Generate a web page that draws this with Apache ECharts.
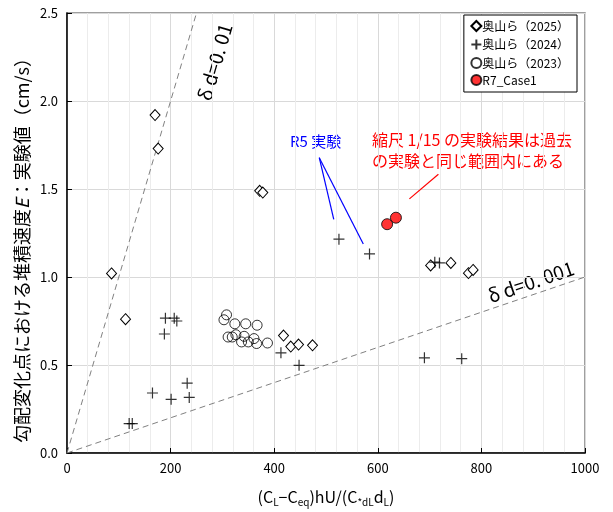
<!DOCTYPE html>
<html><head><meta charset="utf-8">
<script src="https://cdn.jsdelivr.net/npm/echarts@6/dist/echarts.min.js"></script>
<style>html,body{margin:0;padding:0;background:#fff}#c{width:613px;height:512px}</style>
</head><body><div id="c"></div>
<script>
// ---- data ----
const okuyama2025 = [[170,1.92],[176,1.73],[86,1.02],[113,0.76],[372,1.49],[378,1.48],[418,0.667],[432,0.605],[447,0.616],[474,0.612],[702,1.066],[741,1.08],[775,1.022],[784,1.04]];
const okuyama2024 = [[120,0.167],[126,0.167],[165,0.341],[201,0.305],[232,0.397],[236,0.316],[188,0.676],[190,0.766],[207,0.766],[212,0.75],[413,0.569],[448,0.498],[525,1.215],[584,1.131],[690,0.541],[762,0.536],[710,1.084],[719,1.08]];
const okuyama2023 = [[308,0.785],[303,0.757],[324,0.734],[345,0.734],[367,0.726],[311,0.659],[319,0.659],[326,0.672],[342,0.663],[337,0.631],[350,0.631],[361,0.65],[366,0.622],[387,0.625]];
const r7case1 = [[618,1.30],[635,1.337]];
const refLine01 = [[0,0],[250,2.5]];
const refLine001 = [[0,0],[1000,1.0]];
const blueLeader1 = [[487,1.678],[515,1.327]];
const blueLeader2 = [[487,1.678],[572,1.187]];
const redLeader = [[717,1.584],[661,1.444]];
const seriesNames = ['奥山ら（2025）','奥山ら（2024）','奥山ら（2023）','R7_Case1'];

const FONT = '"Noto Sans CJK JP", sans-serif';
const chart = echarts.init(document.getElementById('c'));
const plusPath = 'path://M0,5L10,5M5,0L5,10';
const lineSeries = (d, color, dashed) => ({type:'line', data:d, symbol:'none', silent:true, z:1,
  lineStyle:{color:color, width: dashed?1:1.2, type: dashed?[6,4]:'solid'}, animation:false});

chart.setOption({
  animation:false,
  textStyle:{fontFamily:FONT},
  grid:{left:67, right:28, top:13, bottom:54, show:true, borderColor:'#808080', borderWidth:1.5, backgroundColor:'#fff'},
  legend:{
    data:seriesNames, orient:'vertical', right:36, top:15,
    backgroundColor:'#fff', borderColor:'#000', borderWidth:1, borderRadius:0,
    padding:[5,8,6,5], itemGap:5, itemWidth:10, itemHeight:10,
    textStyle:{fontSize:12, color:'#000', fontFamily:FONT, padding:[0,0,0,-4]}
  },
  xAxis:{
    type:'value', min:0, max:1000, interval:200,
    axisLine:{lineStyle:{color:'#000', width:1.5}},
    axisTick:{inside:true, length:5, lineStyle:{color:'#000'}},
    axisLabel:{fontSize:13, color:'#000', margin:9, formatter:v=>String(v)},
    splitLine:{show:true, lineStyle:{color:'#d9d9d9'}},
    minorTick:{show:false, splitNumber:5},
    minorSplitLine:{show:true, lineStyle:{color:'#ececec'}},
    name:'(C{s|L}−C{s|eq})hU/(C{s|*dL}d{s|L})', nameLocation:'middle', nameGap:34,
    nameTextStyle:{fontSize:16, color:'#000', lineHeight:20,
      rich:{s:{fontSize:10, lineHeight:10, verticalAlign:'bottom', color:'#000'}}}
  },
  yAxis:{
    type:'value', min:0, max:2.5, interval:0.5,
    axisLine:{lineStyle:{color:'#000', width:1.5}},
    axisTick:{inside:true, length:5, lineStyle:{color:'#000'}},
    axisLabel:{fontSize:13, color:'#000', margin:9, formatter:v=>v.toFixed(1)},
    splitLine:{show:true, lineStyle:{color:'#d9d9d9'}}
  },
  series:[
    lineSeries(refLine01,'#808080',true),
    lineSeries(refLine001,'#808080',true),
    lineSeries(blueLeader1,'#0000ff',false),
    lineSeries(blueLeader2,'#0000ff',false),
    lineSeries(redLeader,'#ff0000',false),
    {name:seriesNames[0], type:'scatter', data:okuyama2025, symbol:'diamond', symbolSize:[10,11], z:3,
      itemStyle:{color:'#fff', borderColor:'#000', borderWidth:1, opacity:1}},
    {name:seriesNames[1], type:'scatter', data:okuyama2024, symbol:plusPath, symbolSize:11, z:3,
      itemStyle:{color:'none', borderColor:'#000', borderWidth:1.2}},
    {name:seriesNames[2], type:'scatter', data:okuyama2023, symbol:'circle', symbolSize:10, z:3,
      itemStyle:{color:'rgba(255,255,255,0)', borderColor:'#000', borderWidth:1}},
    {name:seriesNames[3], type:'scatter', data:r7case1, symbol:'circle', symbolSize:11, z:4,
      itemStyle:{color:'#ff0000', borderColor:'#000', borderWidth:1}}
  ],
  graphic:[
    {type:'text', x:22, y:246, rotation:Math.PI/2, style:{
      text:'勾配変化点における堆積速度{i|E}：実験値（cm/s）', fill:'#000', font:'18px '+FONT,
      align:'center', verticalAlign:'middle',
      rich:{i:{fontStyle:'italic', fontSize:18, fontFamily:FONT, fill:'#000'}}}},
    {type:'text', left:290, top:134, style:{text:'R5 実験', fill:'#0000ff', font:'15px '+FONT}},
    {type:'text', left:372, top:129, style:{text:'縮尺 1/15 の実験結果は過去\nの実験と同じ範囲内にある', fill:'#ff0000', font:'16px '+FONT, lineHeight:21}},
    {type:'text', x:215, y:62, rotation:1.288, style:{text:'δ d=0. 01', fill:'#000', font:'19px '+FONT, align:'center', verticalAlign:'middle'}},
    {type:'text', x:531, y:282, rotation:0.33, style:{text:'δ d=0. 001', fill:'#000', font:'19px '+FONT, align:'center', verticalAlign:'middle'}}
  ]
});
</script></body></html>
